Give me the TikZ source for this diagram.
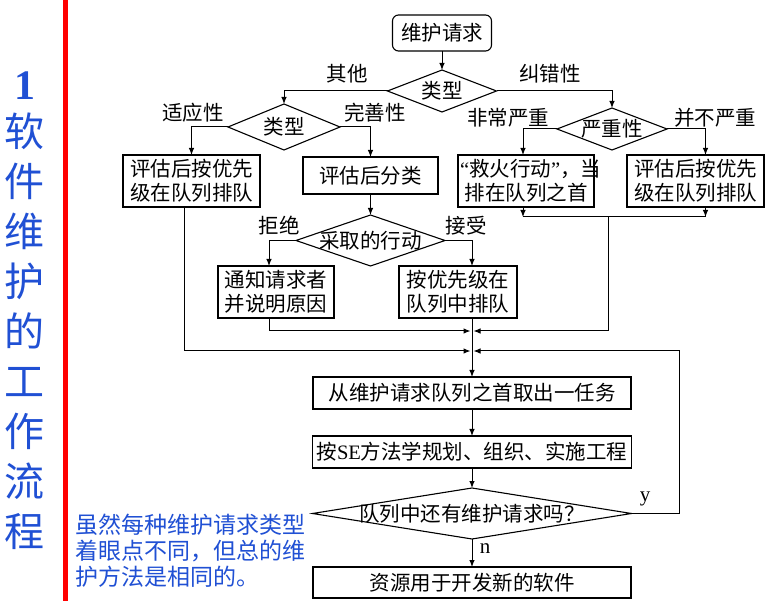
\documentclass[tikz,border=0pt]{standalone}
\usepackage{fontspec}
\setmainfont{Liberation Serif}
\newfontfamily\cjk{Noto Sans CJK SC}
\usepackage{xcolor}
\usetikzlibrary{shapes,arrows.meta,positioning,calc}
\definecolor{titleblue}{RGB}{32,80,212}
\newcommand{\dtext}[1]{\makebox[0pt]{\smash{\raisebox{-0.38em}{#1}}}}

\begin{document}
\begin{tikzpicture}[
    x=1pt, y=-1pt,
    node distance=20pt,
    every node/.style={font=\cjk\fontsize{20.5}{24}\selectfont},
    startbox/.style={draw, line width=1.1pt, rounded corners=6pt, minimum width=99pt, minimum height=36pt, inner sep=2pt, outer sep=0pt},
    procbox/.style={draw, line width=1.1pt, inner sep=2pt, outer sep=0pt, align=center},
    decision/.style={diamond, draw, line width=1.1pt, inner sep=0pt, outer sep=0pt},
    lbl/.style={inner sep=0pt},
    titletext/.style={text=titleblue, inner sep=0pt, align=center, font=\cjk\fontsize{40}{50}\selectfont},
    notetext/.style={text=titleblue, inner sep=0pt, align=left, font=\cjk\fontsize{23}{26}\selectfont},
    arrow/.style={-{Latex[length=7pt,width=5.5pt]}, line width=1pt},
    line/.style={line width=1pt}
]
    \fill[white] (0,0) rectangle (777,601);
    \useasboundingbox (0,0) rectangle (777,601);
    \fill[red] (63,0) rectangle (68,601);

    % title and note
    \node[titletext, font=\rmfamily\bfseries\fontsize{42}{42}\selectfont] (tnum) at (25,86) {1};
    \node[titletext] (title) at (25,331) {软\\件\\维\\护\\的\\工\\作\\流\\程};
    \node[notetext, anchor=west] (note) at (75,551) {虽然每种维护请求类型\\着眼点不同，但总的维\\护方法是相同的。};

    % upper part
    \node[startbox] (start) at (442,33) {维护请求};
    \node[decision, minimum width=109pt, minimum height=42pt, below=19pt of start] (type1) {\dtext{类型}};
    \node[decision, minimum width=112pt, minimum height=46pt] (type2) at (284,127) {\dtext{类型}};
    \node[decision, minimum width=110pt, minimum height=42pt] (severity) at (612,129) {\dtext{严重性}};

    \node[procbox, text width=133pt, minimum height=52pt] (adapt) at (191.5,181) {评估后按优先\\级在队列排队};
    \node[procbox, text width=131pt, minimum height=37pt] (perfect) at (370.5,175.5) {评估后分类};
    \node[procbox, text width=132pt, minimum height=52pt] (urgent) at (526,181) {{\rmfamily“}救火行动{\rmfamily”}，当\\排在队列之首};
    \node[procbox, text width=133pt, minimum height=52pt] (normal) at (695.5,181) {评估后按优先\\级在队列排队};

    \node[decision, minimum width=149pt, minimum height=51pt, below=21pt of perfect] (action) {\dtext{采取的行动}};
    \node[procbox, text width=112pt, minimum height=52pt] (notify) at (276,292) {通知请求者\\并说明原因};
    \node[procbox, text width=114pt, minimum height=52pt] (accept) at (458,292) {按优先级在\\队列中排队};

    % main column
    \node[procbox, text width=314pt, minimum height=32pt] (fetch) at (472,393) {从维护请求队列之首取出一任务};
    \node[procbox, text width=315pt, minimum height=32pt, below=27pt of fetch] (plan) {按{\rmfamily SE}方法学规划、组织、实施工程};
    \node[decision, minimum width=319pt, minimum height=51pt, below=20pt of plan] (more) {\dtext{队列中还有维护请求吗？}};
    \node[procbox, text width=314pt, minimum height=31pt, below=28pt of more] (reuse) {资源用于开发新的软件};

    % branch labels
    \node[lbl] (lother) at (347,74) {其他};
    \node[lbl] (lfix) at (550,74) {纠错性};
    \node[lbl] (ladapt) at (193,113) {适应性};
    \node[lbl] (lperfect) at (375,113) {完善性};
    \node[lbl] (lurgent) at (508,118) {非常严重};
    \node[lbl] (lnormal) at (715,118) {并不严重};
    \node[lbl] (lreject) at (279,226) {拒绝};
    \node[lbl] (laccept) at (466,226) {接受};
    \node[lbl, font=\rmfamily\fontsize{21}{24}\selectfont] (lyes) at (645,499) {y};
    \node[lbl, font=\rmfamily\fontsize{21}{24}\selectfont] (lno) at (485,549) {n};

    % junction points
    \coordinate (sevjoin) at (608,217);
    \coordinate (merge1) at (472,331);
    \coordinate (merge2) at (472,351);
    \coordinate (loopcorner) at (679,351);

    \draw[arrow] (start) -- (type1);
    \draw[arrow] (type1.west) -| (type2.north);
    \draw[arrow] (type1.east) -| (severity.north);
    \draw[arrow] (type2.west) -| (adapt.north);
    \draw[arrow] (type2.east) -| (perfect.north);
    \draw[arrow] (perfect) -- (action);
    \draw[arrow] (action.west) -| ([xshift=-7pt]notify.north);
    \draw[arrow] (action.east) -| ([xshift=14pt]accept.north);
    \draw[arrow] (severity.west) -| ([xshift=-3pt]urgent.north);
    \draw[arrow] (severity.east) -| ([xshift=10pt]normal.north);

    \draw[arrow] ([xshift=-3pt]urgent.south) -- ([xshift=-3pt]urgent.south |- sevjoin);
    \draw[arrow] ([xshift=10pt]normal.south) -- ([xshift=10pt]normal.south |- sevjoin);
    \draw[line] ([xshift=-3pt]urgent.south |- sevjoin) -- ([xshift=10pt]normal.south |- sevjoin);
    \draw[arrow] (sevjoin) |- ([xshift=1.5pt]merge1);
    \draw[arrow] ([xshift=-7pt]notify.south) |- ([xshift=-1.5pt]merge1);
    \draw[arrow] ([xshift=-7pt]adapt.south) |- ([xshift=-1.5pt]merge2);
    \draw[arrow] (more.east) -| (loopcorner) -- ([xshift=1.5pt]merge2);

    \draw[arrow] ([xshift=14pt]accept.south) -- (fetch.north);
    \draw[arrow] (fetch) -- (plan);
    \draw[arrow] (plan) -- (more);
    \draw[arrow] (more) -- (reuse);
\end{tikzpicture}
\end{document}
